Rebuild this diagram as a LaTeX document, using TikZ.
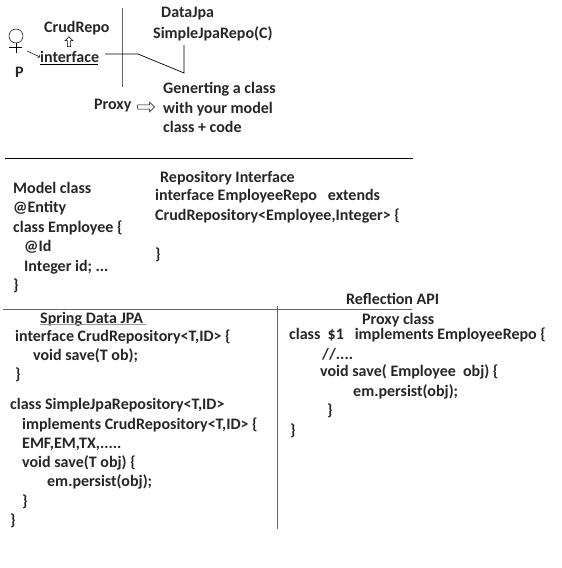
\documentclass[tikz,border=0pt]{standalone}
\usepackage{fontspec}
\setmainfont{Carlito}
\usetikzlibrary{positioning,shapes.arrows}
\tikzset{
	code/.style={anchor=west,inner sep=0pt,text height=13pt,text depth=2pt,font=\bfseries\fontsize{16}{18}\selectfont,text=black!85},
	rule/.style={draw=black,line width=0.7pt},
	softrule/.style={draw=black!60,line width=0.7pt},
	hollow/.style={single arrow,draw=black,fill=white,line width=0.5pt,inner sep=1.5pt,minimum width=10pt,minimum height=17pt,single arrow head extend=2.5pt}
}
\begin{document}
\begin{tikzpicture}[x=1pt,y=1pt]
	\useasboundingbox (0,0) rectangle (562,-568);
	% top sketch
	\node[code] (crud) at (44,-27) {CrudRepo};
	\node[code] (datajpa) at (161,-12) {DataJpa};
	\node[code] (simple) at (153,-33) {SimpleJpaRepo(C)};
	\node[code] (iface) at (40,-57) {interface};
	\node[code] (p) at (15,-72) {P};
	\node[code] (proxy) at (94,-104) {Proxy};
	\node[code] (gen1) at (163,-88) {Generting a class};
	\node[code] (gen2) at (163,-108) {with your model};
	\node[code] (gen3) at (163,-127) {class + code};
	\node[draw=black,circle,inner sep=0pt,minimum size=14pt,line width=0.5pt] (head) at (16,-36) {};
	\coordinate (foot) at (16,-53);
	\coordinate (armL) at (9,-47);
	\coordinate (armR) at (22,-47);
	\draw[line width=0.5pt] (head) -- (foot);
	\draw[line width=0.5pt] (armL) -- (armR);
	\coordinate (userarrow) at (27,-51);
	\draw[line width=0.5pt,->] (userarrow) -- (iface.west);
	\draw[rule] (iface.south west) -- ++(58,0);
	\node[hollow,rotate=90,minimum width=8pt,minimum height=10pt,single arrow head extend=2pt,inner sep=1pt] (up) at (69,-42.5) {};
	\node[hollow] (right) at (145,-107) {};
	\coordinate (divtop) at (122,-8);
	\coordinate (divbot) at (122,-87);
	\draw[softrule] (divtop) -- (divbot);
	\coordinate (a) at (105,-54);
	\coordinate (b) at (138,-54);
	\coordinate (c) at (184,-73);
	\coordinate (d) at (184,-45);
	\draw[rule] (a) -- (b) -- (c) -- (d);
	\coordinate (ruleAl) at (5,-158);
	\coordinate (ruleAr) at (413,-158);
	\draw[rule] (ruleAl) -- (ruleAr);
	% model and repository
	\node[code] (m1) at (13,-188) {Model class};
	\node[code] (m2) at (13,-207) {@Entity};
	\node[code] (m3) at (13,-227) {class Employee \{};
	\node[code] (m4) at (24,-246) {@Id};
	\node[code] (m5) at (24,-266) {Integer id; ...};
	\node[code] (m6) at (13,-285) {\}};
	\node[code] (r1) at (160,-177) {Repository Interface};
	\node[code] (r2) at (155,-195) {interface EmployeeRepo\ \ \ extends};
	\node[code] (r3) at (155,-215) {CrudRepository<Employee,Integer> \{};
	\node[code] (r4) at (155,-254) {\}};
	% spring data
	\coordinate (ruleBl) at (3,-309);
	\coordinate (ruleBr) at (412,-309);
	\draw[softrule] (ruleBl) -- (ruleBr);
	\coordinate (midtop) at (277,-306);
	\coordinate (midbot) at (277,-529);
	\draw[softrule] (midtop) -- (midbot);
	\node[code] (s0) at (40,-318) {Spring Data JPA};
	\draw[black!40,line width=0.7pt] (s0.south west) ++(0,1) -- ++(106,0);
	\node[code] (s1) at (15,-336) {interface CrudRepository<T,ID> \{};
	\node[code] (s2) at (33,-355) {void save(T ob);};
	\node[code] (s3) at (15,-374) {\}};
	\node[code] (s4) at (10,-404) {class SimpleJpaRepository<T,ID>};
	\node[code] (s5) at (22,-424) {implements CrudRepository<T,ID> \{};
	\node[code] (s6) at (22,-443) {EMF,EM,TX,.....};
	\node[code] (s7) at (22,-462) {void save(T obj) \{};
	\node[code] (s8) at (47,-481) {em.persist(obj);};
	\node[code] (s9) at (22,-501) {\}};
	\node[code] (s10) at (10,-520) {\}};
	% proxy
	\node[code] (x0) at (346,-299) {Reflection API};
	\node[code] (x1) at (362,-319) {Proxy class};
	\node[code] (x2) at (289,-334) {class\ \ \$1\ \ \ implements EmployeeRepo \{};
	\node[code] (x3) at (322,-354) {//....};
	\node[code] (x4) at (320,-371) {void save( Employee\ \ obj) \{};
	\node[code] (x5) at (353,-391) {em.persist(obj);};
	\node[code] (x6) at (327,-410) {\}};
	\node[code] (x7) at (290,-430) {\}};
\end{tikzpicture}
\end{document}
